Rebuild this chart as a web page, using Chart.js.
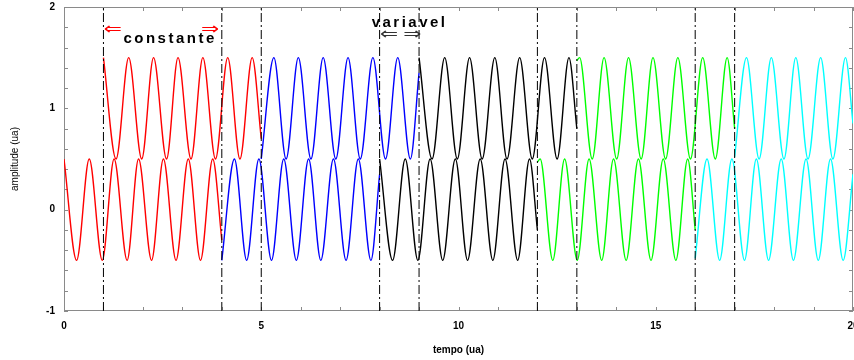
<!DOCTYPE html>
<html>
<head>
<meta charset="utf-8">
<script src="https://cdn.jsdelivr.net/npm/chart.js@4.4.1/dist/chart.umd.min.js"></script>
<style>
  html, body { margin: 0; padding: 0; background: #fff; }
  canvas { display: block; }
</style>
</head>
<body>
<canvas id="chart" width="854" height="360"></canvas>
<script>
// tick labels
const xTickLabels = [0, 5, 10, 15, 20];
const yTickLabels = [-1, 0, 1, 2];

// dash-dot marker lines
const boundaries = [1, 4, 5, 8, 9, 12, 13, 16, 17];

// lower wave (around 0), extrema
const lowRedX = [0, 0.32, 0.64, 0.97, 1.27, 1.6, 1.89, 2.22, 2.52, 2.84, 3.15, 3.46, 3.77, 4.0];
const lowRedY = [0.5, -0.5, 0.5, -0.5, 0.5, -0.5, 0.5, -0.5, 0.5, -0.5, 0.5, -0.5, 0.5, -0.3];
const lowBlueX = [4.0, 4.32, 4.63, 4.94, 5.26, 5.57, 5.89, 6.2, 6.51, 6.83, 7.15, 7.46, 7.78, 8.0];
const lowBlueY = [-0.5, 0.5, -0.5, 0.5, -0.5, 0.5, -0.5, 0.5, -0.5, 0.5, -0.5, 0.5, -0.5, 0.35];
const lowBlackX = [8.0, 8.33, 8.65, 8.97, 9.28, 9.6, 9.92, 10.23, 10.55, 10.87, 11.18, 11.5, 11.8, 12.0];
const lowBlackY = [0.5, -0.5, 0.5, -0.5, 0.5, -0.5, 0.5, -0.5, 0.5, -0.5, 0.5, -0.5, 0.5, -0.2];
const lowGreenX = [12.0, 12.07, 12.39, 12.69, 13.01, 13.31, 13.63, 13.93, 14.25, 14.56, 14.88, 15.19, 15.51, 15.81, 16.0];
const lowGreenY = [0.47, 0.5, -0.5, 0.5, -0.5, 0.5, -0.5, 0.5, -0.5, 0.5, -0.5, 0.5, -0.5, 0.5, -0.2];
const lowCyanX = [16.0, 16.3, 16.62, 16.93, 17.25, 17.55, 17.86, 18.18, 18.49, 18.81, 19.12, 19.43, 19.75, 20.0];
const lowCyanY = [-0.48, 0.5, -0.5, 0.5, -0.5, 0.5, -0.5, 0.5, -0.5, 0.5, -0.5, 0.5, -0.5, 0.35];

// upper wave (around 1)
const upRedX = [1.0, 1.32, 1.64, 1.97, 2.27, 2.6, 2.89, 3.22, 3.52, 3.84, 4.15, 4.46, 4.77, 5.0];
const upRedY = [1.5, 0.5, 1.5, 0.5, 1.5, 0.5, 1.5, 0.5, 1.5, 0.5, 1.5, 0.5, 1.5, 0.7];
const upBlueX = [5.0, 5.32, 5.63, 5.94, 6.26, 6.57, 6.89, 7.2, 7.51, 7.83, 8.15, 8.46, 8.78, 9.0];
const upBlueY = [0.5, 1.5, 0.5, 1.5, 0.5, 1.5, 0.5, 1.5, 0.5, 1.5, 0.5, 1.5, 0.5, 1.35];
const upBlackX = [9.0, 9.33, 9.65, 9.97, 10.28, 10.6, 10.92, 11.23, 11.55, 11.87, 12.18, 12.5, 12.8, 13.0];
const upBlackY = [1.5, 0.5, 1.5, 0.5, 1.5, 0.5, 1.5, 0.5, 1.5, 0.5, 1.5, 0.5, 1.5, 0.8];
const upGreenX = [13.0, 13.07, 13.39, 13.69, 14.01, 14.31, 14.63, 14.93, 15.25, 15.56, 15.88, 16.19, 16.51, 16.81, 17.0];
const upGreenY = [1.47, 1.5, 0.5, 1.5, 0.5, 1.5, 0.5, 1.5, 0.5, 1.5, 0.5, 1.5, 0.5, 1.5, 0.8];
const upCyanX = [17.0, 17.3, 17.62, 17.93, 18.25, 18.55, 18.86, 19.18, 19.49, 19.81, 20.0];
const upCyanY = [0.52, 1.5, 0.5, 1.5, 0.5, 1.5, 0.5, 1.5, 0.5, 1.5, 0.85];

const RED = "#ff0000", BLUE = "#0000ff", BLACK = "#000000", GREEN = "#00ff00", CYAN = "#00ffff";

const segments = [
  [lowRedX, lowRedY, RED], [lowBlueX, lowBlueY, BLUE], [lowBlackX, lowBlackY, BLACK],
  [lowGreenX, lowGreenY, GREEN], [lowCyanX, lowCyanY, CYAN],
  [upRedX, upRedY, RED], [upBlueX, upBlueY, BLUE], [upBlackX, upBlackY, BLACK],
  [upGreenX, upGreenY, GREEN], [upCyanX, upCyanY, CYAN],
];

const toPoints = (xs, ys) => xs.map((x, i) => ({ x: x, y: ys[i] }));

const datasets = [];
boundaries.forEach((b) => {
  datasets.push({
    data: [{ x: b, y: -1 }, { x: b, y: 2 }],
    borderColor: "#000",
    borderWidth: 1,
    borderDash: [9, 3, 2, 3],
    pointRadius: 0,
    tension: 0,
  });
});
segments.forEach(([xs, ys, color]) => {
  datasets.push({
    data: toPoints(xs, ys),
    borderColor: color,
    borderWidth: 1.4,
    pointRadius: 0,
    cubicInterpolationMode: "monotone",
  });
});

// labels written on the plot
const notes = [
  { text: "constante", x: 2.69, y: 1.69, color: "#000", font: "bold 15px 'Liberation Sans', Arial", spacing: "2.5px", sx: 1 },
  { text: "variavel", x: 8.76, y: 1.84, color: "#000", font: "bold 15px 'Liberation Sans', Arial", spacing: "2.5px", sx: 1 },
  { text: "⇐", x: 1.24, y: 1.77, color: RED, font: "16px 'DejaVu Sans'", spacing: "0px", sx: 1.35 },
  { text: "⇒", x: 3.70, y: 1.77, color: RED, font: "16px 'DejaVu Sans'", spacing: "0px", sx: 1.35 },
  { text: "⇐", x: 8.24, y: 1.73, color: "#333", font: "16px 'DejaVu Sans'", spacing: "0px", sx: 1.35 },
  { text: "⇒", x: 8.83, y: 1.73, color: "#333", font: "16px 'DejaVu Sans'", spacing: "0px", sx: 1.35 },
];

const framePlugin = {
  id: "frame",
  beforeDatasetsDraw(chart) {
    const { ctx, chartArea: a, scales } = chart;
    ctx.save();
    ctx.strokeStyle = "#8a8a8a";
    ctx.lineWidth = 1;
    ctx.strokeRect(a.left + 0.5, a.top + 0.5, a.width - 1, a.height - 1);
    ctx.beginPath();
    scales.y.ticks.forEach((t) => {
      const py = Math.round(scales.y.getPixelForValue(t.value)) + 0.5;
      ctx.moveTo(a.left, py); ctx.lineTo(a.left + 4, py);
      ctx.moveTo(a.right - 4, py); ctx.lineTo(a.right, py);
    });
    scales.x.ticks.forEach((t) => {
      const px = Math.round(scales.x.getPixelForValue(t.value)) + 0.5;
      ctx.moveTo(px, a.bottom); ctx.lineTo(px, a.bottom - 4);
      ctx.moveTo(px, a.top); ctx.lineTo(px, a.top + 4);
    });
    ctx.stroke();
    ctx.restore();
  },
  afterDraw(chart) {
    const { ctx, scales } = chart;
    notes.forEach((n) => {
      const px = scales.x.getPixelForValue(n.x);
      const py = scales.y.getPixelForValue(n.y);
      ctx.save();
      ctx.font = n.font;
      ctx.letterSpacing = n.spacing;
      ctx.fillStyle = n.color;
      ctx.textAlign = "center";
      ctx.textBaseline = "middle";
      ctx.translate(px, py);
      ctx.scale(n.sx, 1);
      ctx.fillText(n.text, 0, 0);
      ctx.restore();
    });
  },
};

const near = (v, list) => list.find((l) => Math.abs(l - v) < 1e-6);

new Chart(document.getElementById("chart"), {
  type: "line",
  data: { datasets: datasets },
  options: {
    responsive: false,
    animation: false,
    events: [],
    layout: { padding: { top: 7, right: 1, left: 0, bottom: 0 } },
    plugins: { legend: { display: false }, tooltip: { enabled: false } },
    scales: {
      x: {
        type: "linear",
        min: 0,
        max: 20,
        grid: { display: false },
        border: { display: false },
        ticks: {
          stepSize: 1,
          autoSkip: false,
          maxRotation: 0,
          padding: 1,
          color: "#000",
          font: { family: "'Liberation Sans', Arial", size: 10, weight: "bold" },
          callback: (v) => { const l = near(v, xTickLabels); return l === undefined ? "" : String(l); },
        },
        title: {
          display: true,
          text: "tempo (ua)",
          color: "#000",
          font: { family: "'Liberation Sans', Arial", size: 10, weight: "bold" },
          padding: { top: 0, bottom: 4 },
        },
        afterFit: (s) => { s.height = 49; s.paddingLeft = 0; s.paddingRight = 0; },
      },
      y: {
        min: -1,
        max: 2,
        grid: { display: false },
        border: { display: false },
        ticks: {
          stepSize: 0.2,
          autoSkip: false,
          padding: 1,
          color: "#000",
          font: { family: "'Liberation Sans', Arial", size: 10, weight: "bold" },
          callback: (v) => { const l = near(v, yTickLabels); return l === undefined ? "" : String(l); },
        },
        title: {
          display: true,
          text: "amplitude (ua)",
          color: "#000",
          font: { family: "'Liberation Sans', Arial", size: 10 },
          padding: { top: 9, bottom: 0 },
        },
        afterFit: (s) => { s.width = 64; s.paddingTop = 0; s.paddingBottom = 0; },
      },
    },
  },
  plugins: [framePlugin],
});
</script>
</body>
</html>
